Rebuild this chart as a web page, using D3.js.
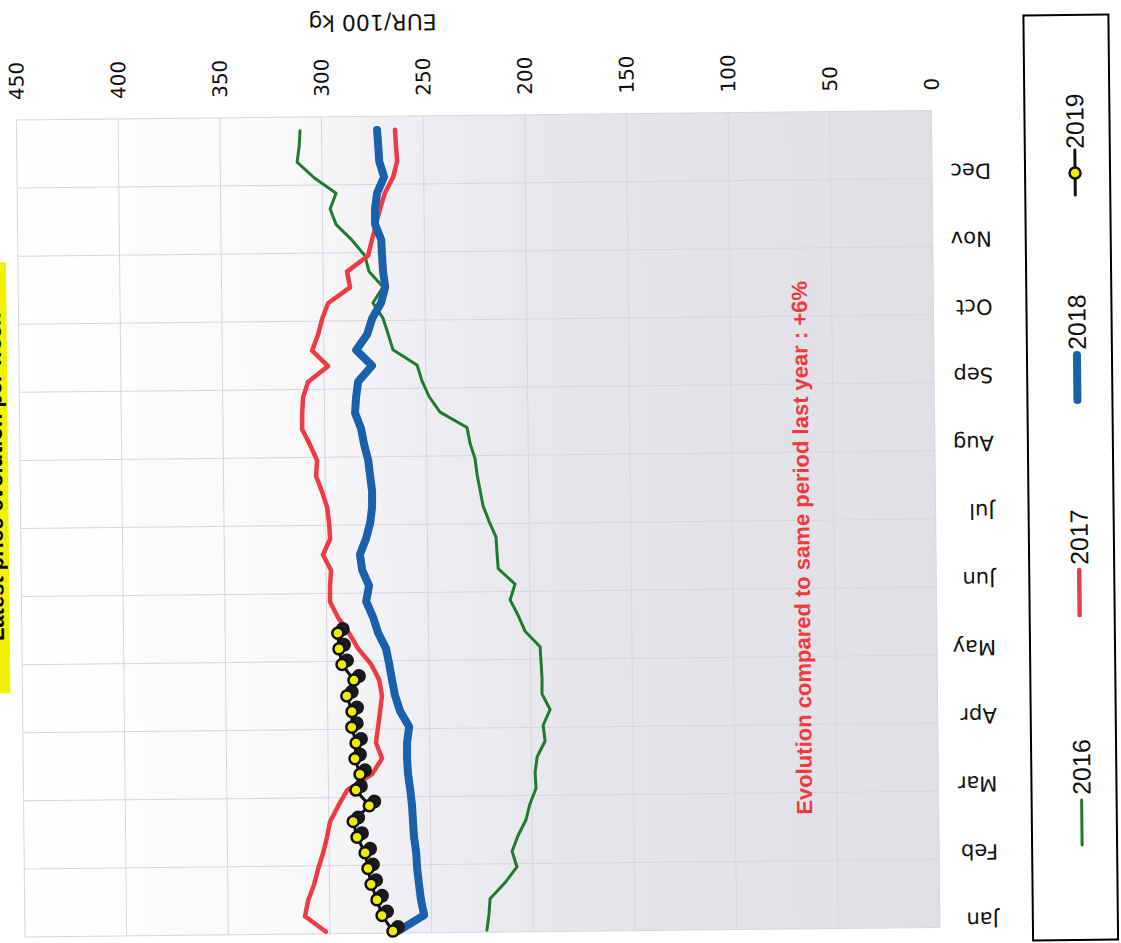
<!DOCTYPE html>
<html><head><meta charset="utf-8">
<script src="https://cdn.jsdelivr.net/npm/d3@7/dist/d3.min.js"></script>
<style>body{margin:0;background:#fff;} svg{display:block}</style>
</head><body>
<svg id="c" width="1121" height="943"></svg>
<script>
const months = ["Jan","Feb","Mar","Apr","May","Jun","Jul","Aug","Sep","Oct","Nov","Dec"];
const valueTicks = [0,50,100,150,200,250,300,350,400,450];
const seriesNames = ["2016","2017","2018","2019"];
const s2016 = [222.8,221.7,221.1,213.7,207.7,210.0,207.0,203.0,201.0,197.9,198.3,197.2,193.2,194.1,190.6,194.5,194.4,194.8,195.2,202.5,205.8,209.7,207.2,215.4,215.9,216.3,219.6,222.5,223.9,225.3,226.2,228.6,230.0,243.2,248.5,251.9,254.2,266.0,268.3,270.7,275.6,270.6,277.4,279.3,285.6,293.3,296.2,293.2,303.9,312.2,311.1,310.6];
const s2017 = [302.0,312.2,310.6,307.6,305.5,303.0,301.0,299.4,295.3,290.8,278.5,273.5,276.4,275.3,274.2,273.2,274.5,278.4,284.7,289.1,294.4,298.3,298.2,297.6,301.5,297.9,298.3,299.2,301.6,304.5,303.9,307.3,311.1,311.0,310.5,308.0,298.0,305.8,302.8,300.7,297.7,286.8,288.2,277.8,275.8,273.7,271.6,269.1,265.0,263.0,263.5,263.9];
const s2018 = [266.5,253.6,255.1,256.0,256.8,257.2,258.2,258.6,259.0,259.8,260.8,261.2,261.1,260.0,264.4,266.8,268.2,269.5,271.0,274.8,277.2,280.5,279.0,282.3,283.3,280.2,278.1,277.1,277.0,277.9,278.8,280.7,282.1,285.0,284.4,283.3,276.4,284.1,278.6,276.1,271.6,269.5,270.5,270.9,271.2,274.2,274.1,273.0,269.5,271.8,272.2,272.7];
const s2019 = [269.0,274.3,276.7,279.5,281.0,282.3,286.2,288.0,280.0,286.5,284.4,286.8,286.2,288.2,288.0,290.5,286.9,292.7,294.1,294.6];
const noteText = "Evolution compared to same period last year : +6%";
const axisTitle = "EUR/100 kg";
const chartTitle = "Latest price evolution per week";

const W = 817, H = 915;
const svg = d3.select("#c");
const defs = svg.append("defs");
const grad = defs.append("linearGradient").attr("id","bg")
  .attr("gradientUnits","userSpaceOnUse").attr("x1",0).attr("y1",0).attr("x2",0).attr("y2",H);
[[0,"#ffffff"],[0.3,"#f9f9fb"],[0.42,"#efeff3"],[0.6,"#e5e5eb"],[1,"#dfdfe6"]]
  .forEach(([o,c])=>grad.append("stop").attr("offset",o).attr("stop-color",c));

const g = svg.append("g").attr("transform","translate(25,937) rotate(-90.6)");

const x = d3.scaleLinear().domain([0,52]).range([0,W]);
const xm = d3.scaleLinear().domain([0,12]).range([0,W]);
const y = d3.scaleLinear().domain([0,450]).range([H,0]);
const pos = i => x(i + 0.13);

g.append("rect").attr("width",W).attr("height",H).attr("fill","url(#bg)");

g.append("g").selectAll("line").data(valueTicks).join("line")
  .attr("x1",0).attr("x2",W).attr("y1",d=>y(d)).attr("y2",d=>y(d))
  .attr("stroke","#d6d6dc").attr("stroke-width",1);
g.append("g").selectAll("line").data(d3.range(13)).join("line")
  .attr("y1",0).attr("y2",H).attr("x1",d=>xm(d)).attr("x2",d=>xm(d))
  .attr("stroke","#d6d6dc").attr("stroke-width",1);

// value axis (right side of the unrotated chart)
const ya = g.append("g").attr("transform",`translate(${W},0)`)
  .call(d3.axisRight(y).tickValues(valueTicks).tickSize(0).tickPadding(20));
ya.select(".domain").remove();
ya.selectAll("text").attr("font-family","DejaVu Sans").attr("font-size",20).attr("fill","#111")
  .attr("dy",null).attr("dominant-baseline","central");

// month axis
const xa = g.append("g").attr("transform","translate(7,974)")
  .call(d3.axisBottom(xm).tickValues(d3.range(12)).tickFormat(i=>months[i]).tickSize(0).tickPadding(0));
xa.select(".domain").remove();
xa.selectAll("text").attr("y",0).attr("dy",null).attr("transform","rotate(-90)")
  .attr("text-anchor","start").attr("dominant-baseline","central")
  .attr("font-family","DejaVu Sans").attr("font-size",21).attr("fill","#111");

// axis title
g.append("text").attr("transform","translate(911,357) rotate(-90)")
  .attr("text-anchor","middle").attr("dominant-baseline","central")
  .attr("font-family","DejaVu Sans").attr("font-size",22).attr("fill","#111").text(axisTitle);

// title box (mostly outside the picture, as in the reference)
g.append("rect").attr("x",244).attr("y",-60).attr("width",431).attr("height",48).attr("fill","#f2f200");
g.append("text").attr("x",460).attr("y",-18).attr("text-anchor","middle")
  .attr("font-family","Liberation Sans").attr("font-weight","bold").attr("font-size",22).attr("fill","#000").text(chartTitle);

const line = d3.line().x((d,i)=>pos(i)).y(d=>y(d));
const styles = [
  {data:s2016,color:"#1f7a30",w:3},
  {data:s2017,color:"#ef3b45",w:4.5},
  {data:s2018,color:"#1a60aa",w:8}
];
styles.forEach(s=>{
  g.append("path").datum(s.data).attr("d",line).attr("fill","none")
   .attr("stroke",s.color).attr("stroke-width",s.w).attr("stroke-linejoin","round").attr("stroke-linecap","round");
});
g.append("path").datum(s2019).attr("d",line).attr("fill","none").attr("stroke","#111").attr("stroke-width",3);
g.append("g").selectAll("circle").data(s2019).join("circle")
  .attr("cx",(d,i)=>pos(i)+4).attr("cy",d=>y(d)+5).attr("r",7).attr("fill","#1a1a1a");
g.append("g").selectAll("circle").data(s2019).join("circle")
  .attr("cx",(d,i)=>pos(i)).attr("cy",d=>y(d)).attr("r",5.5).attr("fill","#eeee00")
  .attr("stroke","#111").attr("stroke-width",2.5);

// note
g.append("text").attr("x",381).attr("y",781).attr("text-anchor","middle").attr("dominant-baseline","central")
  .attr("font-family","Liberation Sans").attr("font-weight","bold").attr("font-size",22).attr("fill","#f03a3f").text(noteText);

// legend
const lg = g.append("g");
lg.append("rect").attr("x",-14).attr("y",1008).attr("width",925).attr("height",85)
  .attr("fill","#fff").attr("stroke","#000").attr("stroke-width",2);
const legX = [81,311,526,731];
const legCol = ["#1f7a30","#ef3b45","#1a60aa","#111"];
const legW = [3,4.5,8,3];
seriesNames.forEach((n,k)=>{
  const it = lg.append("g").attr("transform",`translate(${legX[k]},1058)`);
  it.append("line").attr("x1",0).attr("x2",45).attr("stroke",legCol[k]).attr("stroke-width",legW[k]).attr("stroke-linecap","round");
  if(k===3){
    it.append("circle").attr("cx",22).attr("cy",0).attr("r",5.5).attr("fill","#eeee00").attr("stroke","#111").attr("stroke-width",2.5);
  }
  it.append("text").attr("x",(k===3?46:50)).attr("dominant-baseline","central")
    .attr("font-family","Liberation Sans Narrow, Liberation Sans").attr("font-size",25).attr("fill","#111").text(n);
});
</script>
</body></html>
